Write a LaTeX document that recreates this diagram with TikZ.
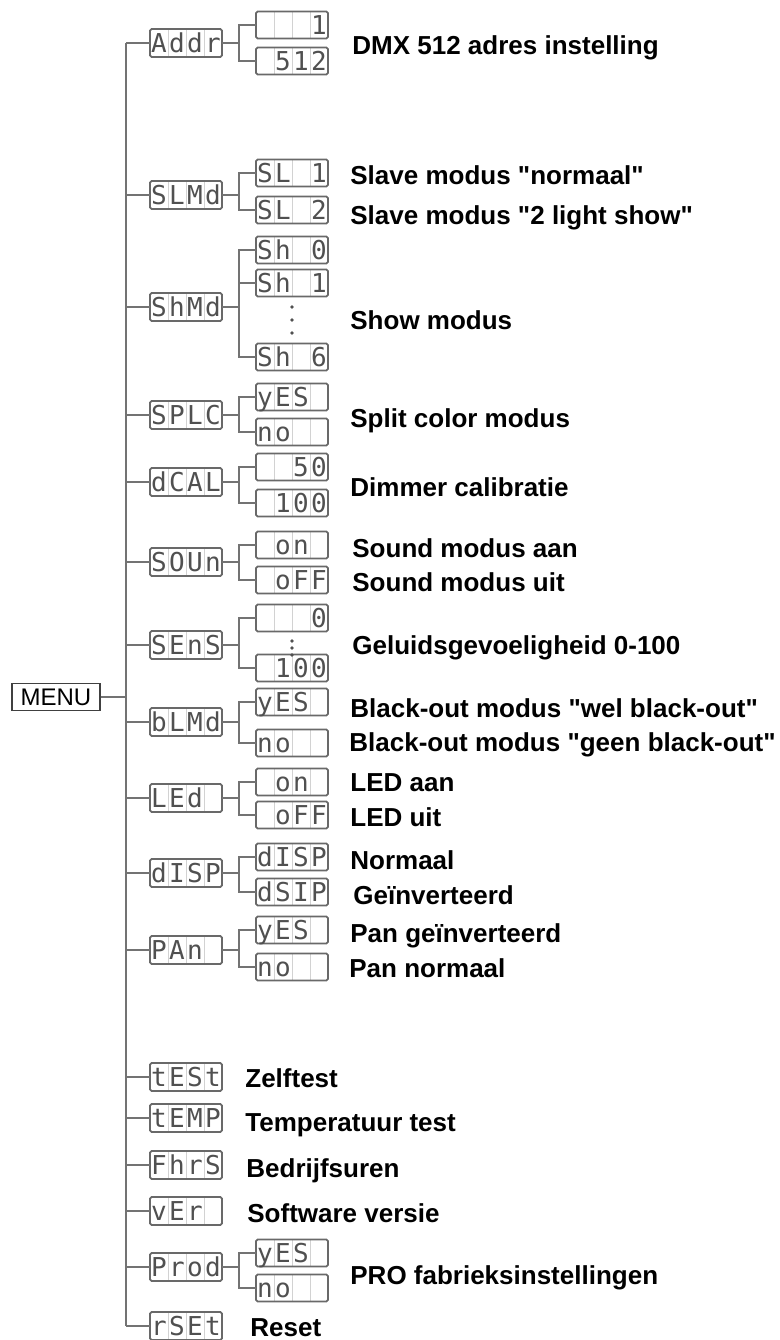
\documentclass[tikz,border=0pt]{standalone}
\usepackage{fontspec}
\setmainfont{Liberation Sans}[Ligatures=TeXOff]
\newfontfamily\segfont{DejaVu Sans Mono}
\usetikzlibrary{positioning}
\usepackage{xcolor}
\definecolor{framecolor}{RGB}{105,105,105}
\definecolor{cellcolor}{RGB}{210,210,210}
\definecolor{segcolor}{RGB}{80,80,80}
\definecolor{linecolor}{RGB}{115,115,115}

% four display cells of 9pt each
\newcommand{\digits}[4]{\makebox[9pt]{#1}\makebox[9pt]{#2}\makebox[9pt]{#3}\makebox[9pt]{#4}}
% straight double quote
\newcommand{\dq}{\symbol{34}}

\begin{document}
\begin{tikzpicture}[
    x=0.5pt, y=-0.5pt,
    lcd/.style={draw=framecolor, line width=0.9pt, rounded corners=0.8pt,
        minimum width=36pt, minimum height=13.5pt, inner sep=0pt, outer sep=0pt,
        text height=9.5pt, text depth=0pt, text=segcolor,
        font=\segfont\fontsize{13}{13}\selectfont,
        path picture={\foreach \k in {-9,0,9}
            \draw[cellcolor, line width=0.5pt] ([xshift=\k pt]path picture bounding box.north)
                -- ([xshift=\k pt]path picture bounding box.south);}},
    toplcd/.style={lcd, minimum height=14pt},
    lbl/.style={anchor=west, inner sep=0pt, text height=9.3pt, text depth=0pt,
        font=\bfseries\fontsize{13}{15}\selectfont},
    link/.style={draw=linecolor, line width=0.8pt}
]

% Page size: 780 x 1340 px
\useasboundingbox (0,0) rectangle (780,1340);

% Menu box
\node[draw=black!75, line width=0.6pt, minimum width=44pt, minimum height=13.5pt,
    inner sep=0pt, font=\fontsize{12}{12}\selectfont] (menu) at (56,697) {MENU};

% Main menu entries
\node[toplcd] (addr) at (186,43)   {\digits{A}{d}{d}{r}};
\node[toplcd] (slmd) at (186,195)  {\digits{S}{L}{M}{d}};
\node[toplcd] (shmd) at (186,307)  {\digits{S}{h}{M}{d}};
\node[toplcd] (splc) at (186,415)  {\digits{S}{P}{L}{C}};
\node[toplcd] (dcal) at (186,482)  {\digits{d}{C}{A}{L}};
\node[toplcd] (soun) at (186,562)  {\digits{S}{O}{U}{n}};
\node[toplcd] (sens) at (186,645)  {\digits{S}{E}{n}{S}};
\node[toplcd] (blmd) at (186,722)  {\digits{b}{L}{M}{d}};
\node[toplcd] (led)  at (186,798)  {\digits{L}{E}{d}{}};
\node[toplcd] (disp) at (186,873)  {\digits{d}{I}{S}{P}};
\node[toplcd] (pan)  at (186,950)  {\digits{P}{A}{n}{}};
\node[toplcd] (test) at (186,1077) {\digits{t}{E}{S}{t}};
\node[toplcd] (temp) at (186,1118) {\digits{t}{E}{M}{P}};
\node[toplcd] (fhrs) at (186,1165) {\digits{F}{h}{r}{S}};
\node[toplcd] (ver)  at (186,1211) {\digits{v}{E}{r}{}};
\node[toplcd] (prod) at (186,1267) {\digits{P}{r}{o}{d}};
\node[toplcd] (rset) at (186,1326) {\digits{r}{S}{E}{t}};

% Sub entries
\node[lcd] (addra) at (292,25)   {\digits{}{}{}{1}};
\node[lcd] (addrb) at (292,61)   {\digits{}{5}{1}{2}};
\node[lcd] (slmda) at (292,173)  {\digits{S}{L}{}{1}};
\node[lcd] (slmdb) at (292,210)  {\digits{S}{L}{}{2}};
\node[lcd] (shmda) at (292,250)  {\digits{S}{h}{}{0}};
\node[lcd] (shmdb) at (292,283)  {\digits{S}{h}{}{1}};
\node[lcd] (shmdc) at (292,357)  {\digits{S}{h}{}{6}};
\node[lcd] (splca) at (292,397)  {\digits{y}{E}{S}{}};
\node[lcd] (splcb) at (292,432)  {\digits{n}{o}{}{}};
\node[lcd] (dcala) at (292,467)  {\digits{}{}{5}{0}};
\node[lcd] (dcalb) at (292,503)  {\digits{}{1}{0}{0}};
\node[lcd] (souna) at (292,545)  {\digits{}{o}{n}{}};
\node[lcd] (sounb) at (292,580)  {\digits{}{o}{F}{F}};
\node[lcd] (sensa) at (292,618)  {\digits{}{}{}{0}};
\node[lcd] (sensb) at (292,668)  {\digits{}{1}{0}{0}};
\node[lcd] (blmda) at (292,702)  {\digits{y}{E}{S}{}};
\node[lcd] (blmdb) at (292,743)  {\digits{n}{o}{}{}};
\node[lcd] (leda)  at (292,782)  {\digits{}{o}{n}{}};
\node[lcd] (ledb)  at (292,815)  {\digits{}{o}{F}{F}};
\node[lcd] (dispa) at (292,857)  {\digits{d}{I}{S}{P}};
\node[lcd] (dispb) at (292,892)  {\digits{d}{S}{I}{P}};
\node[lcd] (pana)  at (292,930)  {\digits{y}{E}{S}{}};
\node[lcd] (panb)  at (292,967)  {\digits{n}{o}{}{}};
\node[lcd] (proda) at (292,1253) {\digits{y}{E}{S}{}};
\node[lcd] (prodb) at (292,1288) {\digits{n}{o}{}{}};

% Skipped values
\foreach \y in {307,320,333} \fill[segcolor] (292,\y) circle (0.9pt);
\foreach \y in {641,648,655} \fill[segcolor] (292,\y) circle (0.9pt);

% Descriptions
\node[lbl] (addrtxt)  at (352,45)   {DMX 512 adres instelling};
\node[lbl] (slmdtxta) at (350,175)  {Slave modus \dq normaal\dq};
\node[lbl] (slmdtxtb) at (350,215)  {Slave modus \dq 2 light show\dq};
\node[lbl] (shmdtxt)  at (350,320)  {Show modus};
\node[lbl] (splctxt)  at (350,418)  {Split color modus};
\node[lbl] (dcaltxt)  at (350,487)  {Dimmer calibratie};
\node[lbl] (sountxta) at (352,548)  {Sound modus aan};
\node[lbl] (sountxtb) at (352,582)  {Sound modus uit};
\node[lbl] (senstxt)  at (352,645)  {Geluidsgevoeligheid 0-100};
\node[lbl] (blmdtxta) at (350,708)  {Black-out modus \dq wel black-out\dq};
\node[lbl] (blmdtxtb) at (349,742)  {Black-out modus \dq geen black-out\dq};
\node[lbl] (ledtxta)  at (350,782)  {LED aan};
\node[lbl] (ledtxtb)  at (350,817)  {LED uit};
\node[lbl] (disptxta) at (350,860)  {Normaal};
\node[lbl] (disptxtb) at (353,895)  {Geïnverteerd};
\node[lbl] (pantxta)  at (350,933)  {Pan geïnverteerd};
\node[lbl] (pantxtb)  at (349,968)  {Pan normaal};
\node[lbl] (testtxt)  at (245,1078) {Zelftest};
\node[lbl] (temptxt)  at (245,1122) {Temperatuur test};
\node[lbl] (fhrstxt)  at (246,1168) {Bedrijfsuren};
\node[lbl] (vertxt)   at (247,1213) {Software versie};
\node[lbl] (prodtxt)  at (350,1275) {PRO fabrieksinstellingen};
\node[lbl] (rsettxt)  at (250,1327) {Reset};

% Trunk
\coordinate (trunktop) at (126,43);
\coordinate (trunkbot) at (126,1326);
\draw[link] (trunktop) -- (trunkbot);
\draw[link] (menu.east) -- (menu.east -| trunktop);
\foreach \n in {addr,slmd,shmd,splc,dcal,soun,sens,blmd,led,disp,pan,test,temp,fhrs,ver,prod,rset}
    \draw[link] (\n.west) -- (\n.west -| trunktop);

% Branches
\foreach \p/\c in {addr/addra, addr/addrb, slmd/slmda, slmd/slmdb,
        shmd/shmda, shmd/shmdb, shmd/shmdc, splc/splca, splc/splcb,
        dcal/dcala, dcal/dcalb, soun/souna, soun/sounb, sens/sensa, sens/sensb,
        blmd/blmda, blmd/blmdb, led/leda, led/ledb, disp/dispa, disp/dispb,
        pan/pana, pan/panb, prod/proda, prod/prodb}
    \draw[link] (\p.east) -- ++(17,0) |- (\c.west);

\end{tikzpicture}
\end{document}
